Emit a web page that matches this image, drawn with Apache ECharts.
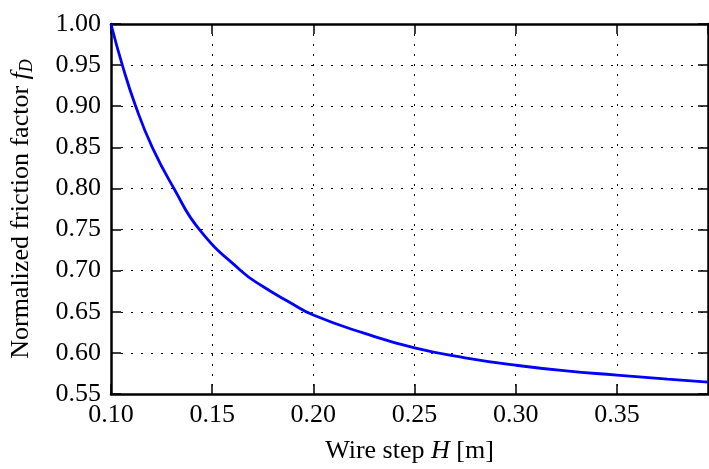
<!DOCTYPE html>
<html>
<head>
<meta charset="utf-8">
<script src="https://cdn.jsdelivr.net/npm/echarts@6/dist/echarts.min.js"></script>
<style>
  html, body { margin: 0; padding: 0; background: #fff; }
  #chart { width: 709px; height: 469px; }
</style>
</head>
<body>
<div id="chart"></div>
<script>
  // wire step H [m] and normalized friction factor
  var stepH = [0.100, 0.1056, 0.1122, 0.1204, 0.1311, 0.1437, 0.1642, 0.1749, 0.188, 0.200, 0.225, 0.250, 0.275, 0.300, 0.325, 0.350, 0.375, 0.395];
  var frictionFD = [1.000, 0.950, 0.900, 0.850, 0.800, 0.750, 0.700, 0.681, 0.662, 0.646, 0.624, 0.606, 0.594, 0.585, 0.578, 0.573, 0.568, 0.5645];

  var xMin = 0.10, xMax = 0.395, xStep = 0.05;
  var yMin = 0.55, yMax = 1.00, yStep = 0.05;

  var lineData = [];
  for (var i = 0; i < stepH.length; i++) {
    lineData.push([stepH[i], frictionFD[i]]);
  }

  var font = 'Liberation Serif';
  var fs = 26;
  var spine = { show: true, onZero: false, lineStyle: { color: '#000', width: 2.5 } };
  var tick = { show: true, inside: true, length: 10, lineStyle: { color: '#000', width: 1.5 } };
  var dotted = { show: true, lineStyle: { color: '#000', width: 1, type: [2, 8] } };

  var chart = echarts.init(document.getElementById('chart'));
  chart.setOption({
    animation: false,
    grid: { left: 110, right: 1, top: 24, bottom: 72 },
    xAxis: [
      {
        type: 'value',
        min: xMin, max: xMax, interval: xStep,
        name: '{n|Wire step }{i|H}{n| [m]}',
        nameLocation: 'middle',
        nameGap: 44,
        nameTextStyle: {
          rich: {
            n: { fontFamily: font, fontSize: fs, color: '#000' },
            i: { fontFamily: font, fontSize: fs, fontStyle: 'italic', color: '#000' }
          }
        },
        axisLine: spine,
        axisTick: tick,
        splitLine: dotted,
        axisLabel: {
          fontFamily: font, fontSize: fs, color: '#000', margin: 8,
          showMaxLabel: false,
          formatter: function (v) { return v.toFixed(2); }
        }
      },
      {
        type: 'value', position: 'top',
        min: xMin, max: xMax, interval: xStep,
        axisLine: spine, axisTick: tick,
        splitLine: { show: false }, axisLabel: { show: false }
      }
    ],
    yAxis: [
      {
        type: 'value',
        min: yMin, max: yMax, interval: yStep,
        name: '{n|Normalized friction factor }{i|f}{s|D}',
        nameLocation: 'middle',
        nameGap: 75,
        nameTextStyle: {
          rich: {
            n: { fontFamily: font, fontSize: fs, color: '#000' },
            i: { fontFamily: font, fontSize: fs, fontStyle: 'italic', color: '#000' },
            s: { fontFamily: font, fontSize: 18, fontStyle: 'italic', color: '#000', verticalAlign: 'bottom', padding: [12, 0, 0, 0] }
          }
        },
        axisLine: spine,
        axisTick: tick,
        splitLine: dotted,
        axisLabel: {
          fontFamily: font, fontSize: fs, color: '#000', margin: 10,
          formatter: function (v) { return v.toFixed(2); }
        }
      },
      {
        type: 'value', position: 'right',
        min: yMin, max: yMax, interval: yStep,
        axisLine: spine, axisTick: tick,
        splitLine: { show: false }, axisLabel: { show: false }
      }
    ],
    series: [
      {
        type: 'line',
        data: lineData,
        smooth: 0.5,
        showSymbol: false,
        lineStyle: { color: '#0000ff', width: 2.8 }
      }
    ]
  });
</script>
</body>
</html>
